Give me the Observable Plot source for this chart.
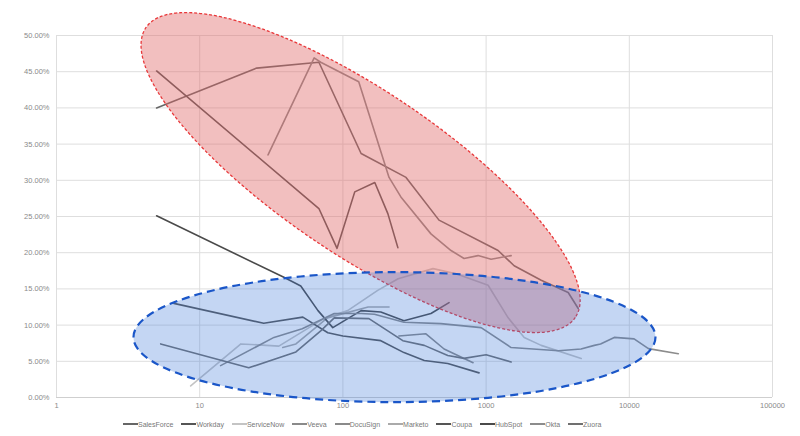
<!DOCTYPE html>
<html><head><meta charset="utf-8">
<script src="https://cdn.jsdelivr.net/npm/d3@7"></script>
<script src="https://cdn.jsdelivr.net/npm/@observablehq/plot@0.6"></script>
<style>
body{margin:0;background:#fff;font-family:"Liberation Sans",Arial,sans-serif;}
#legend{display:flex;align-items:center;height:24px;padding-left:123px;gap:8px;font-size:7px;color:#777;}
.item{display:flex;align-items:center;white-space:nowrap;}
.sw{width:15px;height:2px;}
</style></head><body>
<div id="chart"></div>
<div id="legend"></div>
<script>
// ---- data (x: scale on log axis, y: percent) ----
const seriesNames = ["SalesForce","Workday","ServiceNow","Veeva","DocuSign","Marketo","Coupa","HubSpot","Okta","Zuora"];
const seriesColors = ["#666666","#555555","#c4c4c4","#8a8a8a","#8a8a8a","#aaaaaa","#555555","#4a4a4a","#8c8c8c","#707070"];
const xTicks = [1,10,100,1000,10000,100000];
const yTicks = [0,5,10,15,20,25,30,35,40,45,50];

const salesForce = [[5,40.0],[25,45.5],[68,46.3],[134,33.7],[276,30.4],[469,24.5],[1213,20.3],[1570,18.2],[2425,16.2],[3743,14.5],[4400,12.3]];
const workday = [[5,45.1],[68,26.1],[91,20.6],[121,28.4],[167,29.7],[206,25.4],[242,20.7]];
const serviceNow = [[8.65,1.6],[19.4,7.4],[35.7,7.1],[73.6,10.9],[108,12.0],[175,14.8],[243,16.4],[426,17.8],[617,17.1],[1033,15.5],[1426,11.0],[1845,8.3],[2425,7.2],[4616,5.4]];
const veeva = [[30,33.5],[63,46.9],[70,46.3],[129,43.6],[210,30.4],[254,27.7],[412,22.6],[569,20.3],[702,19.2],[879,19.6],[1084,19.1],[1496,19.6]];
const docuSign = [[246,8.5],[380,8.8],[509,6.7],[811,4.8]];
const marketo = [[38,6.9],[47,7.4],[78,11.0],[150,12.5],[210,12.5]];
const coupa = [[6.6,13.0],[28,10.25],[52.5,11.1],[78.5,8.95],[100,8.5],[184,7.85],[267,6.2],[370,5.1],[540,4.7],[893,3.4]];
const hubSpot = [[5,25.1],[38.7,16.6],[50.8,15.4],[67,12.0],[85,9.65],[134,12.0],[184,11.8],[267,10.6],[412,11.6],[551,13.1]];
const okta = [[14,4.4],[33,8.3],[52,9.5],[87,11.6],[134,11.6],[166,11.5],[267,10.4],[483,10.2],[923,9.65],[1496,6.9],[3200,6.45],[4600,6.7],[5700,7.2],[6300,7.4],[7850,8.3],[10800,8.1],[13600,6.75],[22000,6.05]];
const zuora = [[5.34,7.4],[22,4.1],[47,6.3],[70,9.2],[87,11.0],[152,10.9],[262,7.85],[370,7.2],[540,5.8],[700,5.4],[1000,5.9],[1496,4.9]];

const seriesData = [salesForce,workday,serviceNow,veeva,docuSign,marketo,coupa,hubSpot,okta,zuora];
const rows = seriesData.flatMap((pts,i)=>pts.map(([x,y])=>({series:seriesNames[i],x,y})));

const W = 800, H = 412;
const plot = Plot.plot({
  width: W, height: H,
  marginLeft: 56, marginRight: 28, marginTop: 35, marginBottom: 15,
  style: {fontFamily: '"Liberation Sans", Arial, sans-serif', background: "#fff"},
  x: {type: "log", domain: [1,100000], label: null},
  y: {domain: [0,50], label: null},
  color: {domain: seriesNames, range: seriesColors},
  marks: [
    Plot.gridX(xTicks, {stroke: "#dedede", strokeOpacity: 1, strokeWidth: 1}),
    Plot.gridY(yTicks, {stroke: "#dedede", strokeOpacity: 1, strokeWidth: 1}),
    Plot.ruleY([0], {stroke: "#cfcfcf", strokeWidth: 1.2}),
    Plot.axisY(yTicks, {tickSize: 0, tickPadding: 7, tickFormat: d => d.toFixed(2) + "%", fill: "#8a8a8a", fontSize: 7.5, label: null}),
    Plot.axisX(xTicks, {tickSize: 0, tickPadding: 5, tickFormat: d3.format("d"), fill: "#8a8a8a", fontSize: 7.5, label: null}),
    Plot.line(rows, {x: "x", y: "y", z: "series", stroke: "series", strokeWidth: 1.6, curve: "linear"})
  ]
});
document.getElementById("chart").appendChild(plot);

// ---- highlight ellipses (annotations, positioned through the plot's scales) ----
const xs = plot.scale("x"), ys = plot.scale("y");
const NS = "http://www.w3.org/2000/svg";
function ellipse(cxVal, cyVal, rx, ry, angle, attrs) {
  const cx = xs.apply(cxVal), cy = ys.apply(cyVal);
  const e = document.createElementNS(NS, "ellipse");
  e.setAttribute("cx", cx); e.setAttribute("cy", cy);
  e.setAttribute("rx", rx); e.setAttribute("ry", ry);
  e.setAttribute("transform", `rotate(${angle} ${cx} ${cy})`);
  for (const k in attrs) e.setAttribute(k, attrs[k]);
  plot.appendChild(e);
}
// red (high growth)
ellipse(134, 31.0, 259, 82, 34, {fill: "#e06666", "fill-opacity": 0.42, stroke: "none"});
ellipse(134, 31.0, 259, 82, 34, {fill: "none", stroke: "#e8383a", "stroke-width": 1.3, "stroke-dasharray": "3,2"});
// blue (low growth)
ellipse(231, 8.27, 261, 65, 0, {fill: "#3c78d8", "fill-opacity": 0.3, stroke: "none"});
ellipse(231, 8.27, 261, 65, 0, {fill: "none", stroke: "#1a56c8", "stroke-width": 2.2, "stroke-dasharray": "8,5"});

// ---- legend ----
const lg = document.getElementById("legend");
seriesNames.forEach((n,i)=>{
  const it = document.createElement("div"); it.className = "item";
  const sw = document.createElement("div"); sw.className = "sw"; sw.style.background = seriesColors[i];
  const t = document.createElement("span"); t.textContent = n;
  it.appendChild(sw); it.appendChild(t); lg.appendChild(it);
});
</script>
</body></html>
